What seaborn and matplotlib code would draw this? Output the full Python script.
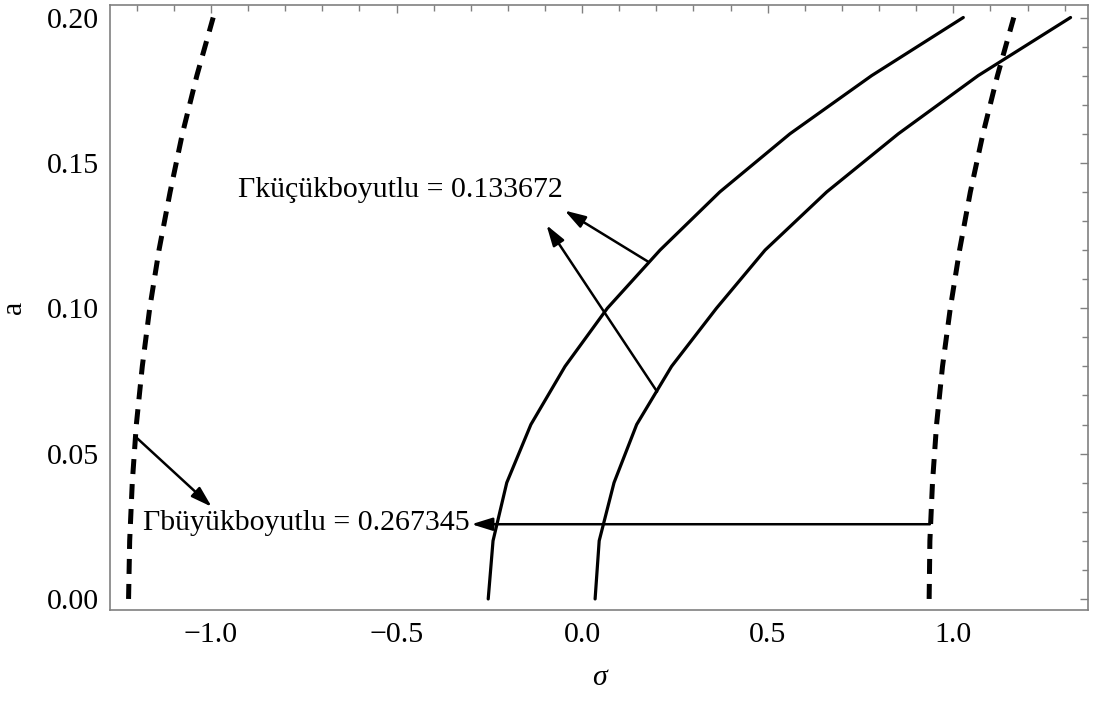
import numpy as np
import pandas as pd
import matplotlib
matplotlib.use("Agg")
import matplotlib.pyplot as plt
import seaborn as sns
from matplotlib.ticker import MultipleLocator

# amplitude levels shared by all curves
a_levels = [0.00, 0.02, 0.04, 0.06, 0.08, 0.10, 0.12, 0.14, 0.16, 0.18, 0.20]

# frequency-response branches (solid)
sigma_branch_left = [-0.253, -0.240, -0.203, -0.138, -0.046, 0.068, 0.210, 0.371, 0.560, 0.780, 1.027]
sigma_branch_right = [0.035, 0.046, 0.086, 0.147, 0.241, 0.362, 0.493, 0.659, 0.852, 1.067, 1.316]

# stability boundaries (dashed)
sigma_bound_left = [-1.222, -1.219, -1.212, -1.201, -1.185, -1.165, -1.140, -1.110, -1.077, -1.038, -0.994]
sigma_bound_right = [0.935, 0.937, 0.944, 0.955, 0.971, 0.992, 1.017, 1.046, 1.080, 1.119, 1.163]

label_small = "Γküçükboyutlu = 0.133672"
label_large = "Γbüyükboyutlu = 0.267345"

x_major = [-1.0, -0.5, 0.0, 0.5, 1.0]
y_major = [0.00, 0.05, 0.10, 0.15, 0.20]

sns.set_style("white")
plt.rcParams["font.family"] = ["Liberation Serif", "DejaVu Serif"]
plt.rcParams["axes.unicode_minus"] = True
plt.rcParams["text.color"] = "black"
plt.rcParams["axes.labelcolor"] = "black"

frame_col = "#808080"
fs = 21.5

fig = plt.figure(figsize=(10.93, 7.02), dpi=100)
ax = fig.add_axes([110 / 1093, 92 / 702, 978 / 1093, 605 / 702])

df = pd.DataFrame({
    "a": a_levels,
    "b1": sigma_branch_left,
    "b2": sigma_branch_right,
    "d1": sigma_bound_left,
    "d2": sigma_bound_right,
})

for col in ["b1", "b2"]:
    sns.lineplot(data=df, x=col, y="a", sort=False, estimator=None, ax=ax,
                 color="black", lw=2.3, solid_joinstyle="miter")
for col in ["d1", "d2"]:
    sns.lineplot(data=df, x=col, y="a", sort=False, estimator=None, ax=ax,
                 color="black", lw=3.6, dashes=False)
for line in ax.get_lines()[2:]:
    line.set_dashes((3.0, 2.0))
    line.set_dash_capstyle("butt")

arrow = dict(arrowstyle="-|>,head_length=0.9,head_width=0.28", color="black",
             lw=1.8, shrinkA=0, shrinkB=0, mutation_scale=14)

# small-dimensional label and its two pointers
ax.annotate("", xy=(-0.047, 0.1336), xytext=(0.178, 0.116), arrowprops=arrow)
ax.annotate("", xy=(-0.096, 0.1286), xytext=(0.202, 0.0713), arrowprops=arrow)
ax.text(-0.053, 0.1405, label_small, ha="right", va="center", fontsize=fs)

# large-dimensional label and its two pointers
ax.annotate("", xy=(-0.998, 0.0317), xytext=(-1.199, 0.0553), arrowprops=arrow)
ax.annotate("", xy=(-0.298, 0.0257), xytext=(0.937, 0.0257), arrowprops=arrow)
ax.text(-0.304, 0.0262, label_large, ha="right", va="center", fontsize=fs)

ax.set_xlim(-1.272, 1.363)
ax.set_ylim(-0.0038, 0.2043)

ax.set_xticks(x_major)
ax.set_yticks(y_major)
ax.xaxis.set_minor_locator(MultipleLocator(0.1))
ax.yaxis.set_minor_locator(MultipleLocator(0.01))
ax.set_xticklabels([f"{v:.1f}".replace("-", "\u2212") for v in x_major])
ax.set_yticklabels([f"{v:.2f}" for v in y_major])

ax.tick_params(which="both", direction="in", top=True, right=True,
               color=frame_col, labelcolor="black", labelsize=fs, width=1)
ax.tick_params(which="major", length=6)
ax.tick_params(which="minor", length=4)
ax.tick_params(axis="y", which="both", pad=8)
ax.tick_params(axis="x", which="both", pad=9)

for sp in ax.spines.values():
    sp.set_visible(True)
    sp.set_color(frame_col)
    sp.set_linewidth(1.2)

ax.set_xlabel("σ", fontsize=fs, fontstyle="italic", labelpad=12)
ax.set_ylabel("a", fontsize=fs, labelpad=14)

fig.savefig("out.png", dpi=100)
